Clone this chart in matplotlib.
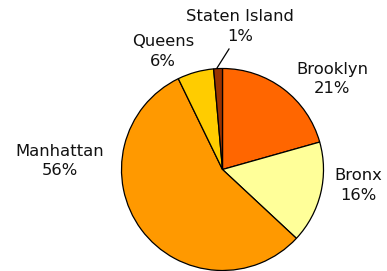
import matplotlib
matplotlib.use("Agg")
import matplotlib.pyplot as plt

boroughs = ["Brooklyn", "Bronx", "Manhattan", "Queens", "Staten Island"]
shares = [20.6, 16.3, 55.8, 5.8, 1.4]
colors = ["#FF6600", "#FFFF99", "#FF9900", "#FFCC00", "#993300"]

W, H = 387, 271
cx, cy, R = 222.5, 169.5, 101.0

fig = plt.figure(figsize=(W / 100, H / 100), dpi=100)
ax = fig.add_axes([0, 0, 1, 1])

ax.pie(shares, colors=colors, startangle=90, counterclock=False, radius=1.0,
       wedgeprops=dict(edgecolor="black", linewidth=0.9))
ax.set_xlim(-cx / R, (W - cx) / R)
ax.set_ylim(-(H - cy) / R, cy / R)
ax.set_aspect("equal")
ax.axis("off")

def px(x, y):
    return (x - cx) / R, (cy - y) / R

label_px = [(332, 79), (358, 185.5), (60, 161), (163, 51.5), (240, 26.5)]
total = sum(shares)
for name, v, (lx, ly) in zip(boroughs, shares, label_px):
    x, y = px(lx, ly)
    ax.text(x, y, f"{name}\n{round(v / total * 100)}%", ha="center", va="center",
            fontsize=11.8, linespacing=1.38, color="#111111", family="DejaVu Sans")

x0, y0 = px(217, 68)
x1, y1 = px(229, 49)
ax.plot([x0, x1], [y0, y1], color="black", lw=0.9)

fig.savefig("out.png", dpi=100)
